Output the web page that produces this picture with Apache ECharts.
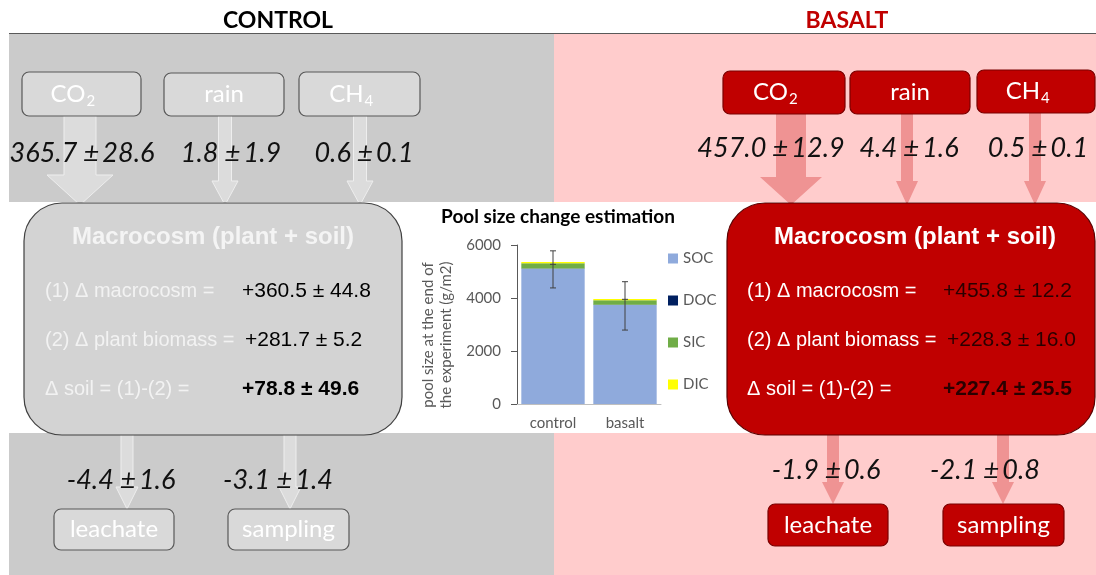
<!DOCTYPE html>
<html><head><meta charset="utf-8">
<script src="https://cdn.jsdelivr.net/npm/echarts@6/dist/echarts.min.js"></script>
<style>html,body{margin:0;padding:0;background:#fff}#c{width:1096px;height:575px}</style>
</head><body><div id="c"></div>
<script>
// ---- Bar chart data (g/m2) ----
const categories = ['control', 'basalt'];
const SOC = [5100, 3735];
const DOC = [10, 10];
const SIC = [205, 170];
const DIC = [45, 50];
const errLow = [4380, 2790];
const errHigh = [5780, 4615];
const errMid = [5270, 3950];
const seriesNames = ['SOC', 'DOC', 'SIC', 'DIC'];

// ---- Diagram texts / values ----
const panelTitles = ['CONTROL', 'BASALT'];
const inputLabels = [['CO', '2'], ['rain', ''], ['CH', '4']];
const inputFluxControl = ['365.7 \u00b1\u200928.6', '1.8 \u00b1\u20091.9', '0.6 \u00b1\u20090.1'];
const inputFluxBasalt = ['457.0 \u00b1\u200912.9', '4.4 \u00b1\u20091.6', '0.5 \u00b1\u20090.1'];
const outputLabels = ['leachate', 'sampling'];
const outputFluxControl = ['-4.4 \u00b1\u20091.6', '-3.1 \u00b1\u20091.4'];
const outputFluxBasalt = ['-1.9 \u00b1\u20090.6', '-2.1 \u00b1\u20090.8'];
const macroTitle = 'Macrocosm (plant + soil)';
const rowLabels = ['(1) \u0394 macrocosm =', '(2) \u0394 plant biomass =', '\u0394 soil = (1)-(2) ='];
const controlRows = ['+360.5 \u00b1 44.8', '+281.7 \u00b1 5.2', '+78.8 \u00b1 49.6'];
const basaltRows = ['+455.8 \u00b1 12.2', '+228.3 \u00b1 16.0', '+227.4 \u00b1 25.5'];
const chartTitle = 'Pool size change estimation';
const yAxisName = 'pool size at the end of\nthe experiment (g/m2)';

// ---- Layout helpers ----
const CAL = 'Lato, "Open Sans", sans-serif';
const ARI = '"Liberation Sans", Arial, sans-serif';
const els = [];
function rect(x, y, w, h, fill, stroke, r, z) {
  els.push({ type: 'rect', z: z || 1, shape: { x, y, width: w, height: h, r: r || 0 },
    style: { fill, stroke: stroke || null, lineWidth: stroke ? 1.2 : 0 } });
}
function txt(x, y, text, font, fill, align, z) {
  els.push({ type: 'text', x, y, z: z || 10,
    style: { text, font, fill, align: align || 'center', verticalAlign: 'middle' } });
}
function arrow(cx, y0, y1, sw, hw, hl, fill, stroke) {
  const p = [[cx - sw / 2, y0], [cx + sw / 2, y0], [cx + sw / 2, y1 - hl], [cx + hw / 2, y1 - hl],
    [cx, y1], [cx - hw / 2, y1 - hl], [cx - sw / 2, y1 - hl]];
  els.push({ type: 'polygon', z: 3, shape: { points: p }, style: { fill, stroke: stroke || null, lineWidth: 1 } });
}
function labelBox(x, y, w, h, lab, fill, stroke, color) {
  rect(x, y, w, h, fill, stroke, 7, 5);
  const cx = x + w / 2, cy = y + h / 2;
  if (lab[1]) {
    txt(cx + 4, cy, lab[0], '24px ' + CAL, color, 'right');
    txt(cx + 5, cy + 7, lab[1], '15px ' + CAL, color, 'left');
  } else {
    txt(cx, cy, lab[0], '24px ' + CAL, color);
  }
}

// backgrounds
const GRAY = '#cbcbcb', PINK = '#ffcccc';
rect(9, 34, 545, 168, GRAY);
rect(554, 34, 542, 168, PINK);
rect(9, 433, 545, 142, GRAY);
rect(554, 433, 542, 142, PINK);
els.push({ type: 'line', z: 2, shape: { x1: 9, y1: 33.5, x2: 1096, y2: 33.5 }, style: { stroke: '#595959', lineWidth: 1.2 } });
txt(278, 21, panelTitles[0], 'bold 23px ' + CAL, '#000');
txt(847, 21, panelTitles[1], 'bold 23px ' + CAL, '#c00000');

// control arrows
const cArrFill = '#dcdcdc', cArrStroke = '#eeeeee';
arrow(80, 116, 205, 32, 66, 30, cArrFill, cArrStroke);
arrow(225, 116, 205, 13, 26, 24, cArrFill, cArrStroke);
arrow(360, 116, 205, 13, 26, 24, cArrFill, cArrStroke);
arrow(127, 434, 509, 12, 22, 22, cArrFill, cArrStroke);
arrow(290, 434, 509, 12, 22, 22, cArrFill, cArrStroke);
// basalt arrows
const bArrFill = '#ef9393';
arrow(791, 113, 205, 30, 62, 28, bArrFill);
arrow(907, 113, 205, 12, 22, 24, bArrFill);
arrow(1035, 113, 205, 12, 22, 24, bArrFill);
arrow(833, 434, 504, 12, 22, 22, bArrFill);
arrow(1003, 434, 504, 12, 22, 22, bArrFill);

// input / output boxes
const cBoxFill = '#d9d9d9', cBoxStroke = '#595959';
const bBoxFill = '#c00000', bBoxStroke = '#7a0000';
[[22, 72, 119, 44], [164, 73, 120, 43], [299, 72, 121, 44]].forEach((b, i) =>
  labelBox(b[0], b[1], b[2], b[3], inputLabels[i], cBoxFill, cBoxStroke, '#ffffff'));
[[723, 71, 122, 43], [850, 71, 120, 43], [977, 70, 118, 43]].forEach((b, i) =>
  labelBox(b[0], b[1], b[2], b[3], inputLabels[i], bBoxFill, bBoxStroke, '#ffffff'));
[[54, 509, 120, 41], [228, 509, 121, 41]].forEach((b, i) =>
  labelBox(b[0], b[1], b[2], b[3], [outputLabels[i], ''], cBoxFill, cBoxStroke, '#ffffff'));
[[768, 504, 120, 42], [943, 504, 121, 42]].forEach((b, i) =>
  labelBox(b[0], b[1], b[2], b[3], [outputLabels[i], ''], bBoxFill, bBoxStroke, '#ffffff'));

// flux values
const fluxFont = 'italic 27px ' + CAL;
[82, 231, 364].forEach((x, i) => txt(x, 153, inputFluxControl[i], fluxFont, '#111'));
[771, 909, 1038].forEach((x, i) => txt(x, 148, inputFluxBasalt[i], fluxFont, '#111'));
[121, 278].forEach((x, i) => txt(x, 480, outputFluxControl[i], fluxFont, '#111'));
[826, 985].forEach((x, i) => txt(x, 470, outputFluxBasalt[i], fluxFont, '#111'));

// macrocosm boxes
rect(24, 203, 378, 232, '#d3d3d3', '#404040', 38, 5);
rect(727, 203, 368, 232, '#c00000', '#5a0000', 38, 5);
txt(213, 237, macroTitle, 'bold 24px ' + ARI, '#f4f4f4');
txt(915, 237, macroTitle, 'bold 24px ' + ARI, '#ffffff');
const rowY = [291, 340, 389];
const cValX = [242, 245, 242], bValX = [943, 947, 943];
rowLabels.forEach((l, i) => {
  txt(45, rowY[i], l, '20px ' + ARI, '#f2f2f2', 'left');
  txt(747, rowY[i], l, '20px ' + ARI, '#ffffff', 'left');
  const f = (i === 2 ? 'bold ' : '') + '21px ' + ARI;
  txt(cValX[i], rowY[i], controlRows[i], f, '#000', 'left');
  txt(bValX[i], rowY[i], basaltRows[i], f, '#2a0000', 'left');
});

// chart title
txt(558, 217, chartTitle, 'bold 19px ' + CAL, '#000');

const colors = ['#8faadc', '#002060', '#70ad47', '#ffff00'];
const dataSets = [SOC, DOC, SIC, DIC];
const axisFont = { color: '#595959', fontSize: 15, fontFamily: 'Lato' };

const chart = echarts.init(document.getElementById('c'), null, { renderer: 'canvas' });
chart.setOption({
  animation: false,
  backgroundColor: '#ffffff',
  graphic: { elements: els },
  grid: { left: 517, right: 435, top: 245, bottom: 171 },
  legend: {
    data: seriesNames, orient: 'vertical', left: 663, top: 246, itemWidth: 10, itemHeight: 10, itemGap: 27,
    itemTextGap: 4, icon: 'rect', textStyle: axisFont
  },
  xAxis: {
    type: 'category', data: categories,
    axisLine: { lineStyle: { color: '#bfbfbf' } }, axisTick: { show: false },
    axisLabel: Object.assign({ margin: 12 }, axisFont)
  },
  yAxis: {
    type: 'value', min: 0, max: 6000, interval: 2000,
    name: yAxisName, nameLocation: 'middle', nameGap: 62,
    nameTextStyle: { color: '#595959', fontSize: 15, fontFamily: 'Lato', lineHeight: 18, padding: [0, 21, 0, 0] },
    splitLine: { show: false },
    axisLine: { show: true, lineStyle: { color: '#595959' } },
    axisTick: { show: true, length: 6, lineStyle: { color: '#595959' } },
    axisLabel: Object.assign({ margin: 16, formatter: v => String(v) }, axisFont)
  },
  series: seriesNames.map((n, k) => ({
    name: n, type: 'bar', stack: 'pool', data: dataSets[k], barCategoryGap: '12%',
    itemStyle: { color: colors[k] }
  })).concat([{
    type: 'custom', name: 'err', z: 5,
    data: categories.map((c, i) => [i, errLow[i], errHigh[i], errMid[i]]),
    encode: { x: 0, y: [1, 2, 3] },
    renderItem: function (params, api) {
      const i = api.value(0);
      const lo = api.coord([i, api.value(1)]);
      const hi = api.coord([i, api.value(2)]);
      const mid = api.coord([i, api.value(3)]);
      const w = 3;
      const st = { stroke: '#404040', lineWidth: 1 };
      return { type: 'group', children: [
        { type: 'line', shape: { x1: lo[0], y1: lo[1], x2: hi[0], y2: hi[1] }, style: st },
        { type: 'line', shape: { x1: lo[0] - w, y1: lo[1], x2: lo[0] + w, y2: lo[1] }, style: st },
        { type: 'line', shape: { x1: hi[0] - w, y1: hi[1], x2: hi[0] + w, y2: hi[1] }, style: st },
        { type: 'line', shape: { x1: mid[0] - w, y1: mid[1], x2: mid[0] + w, y2: mid[1] }, style: st }
      ] };
    }
  }])
});
</script></body></html>
